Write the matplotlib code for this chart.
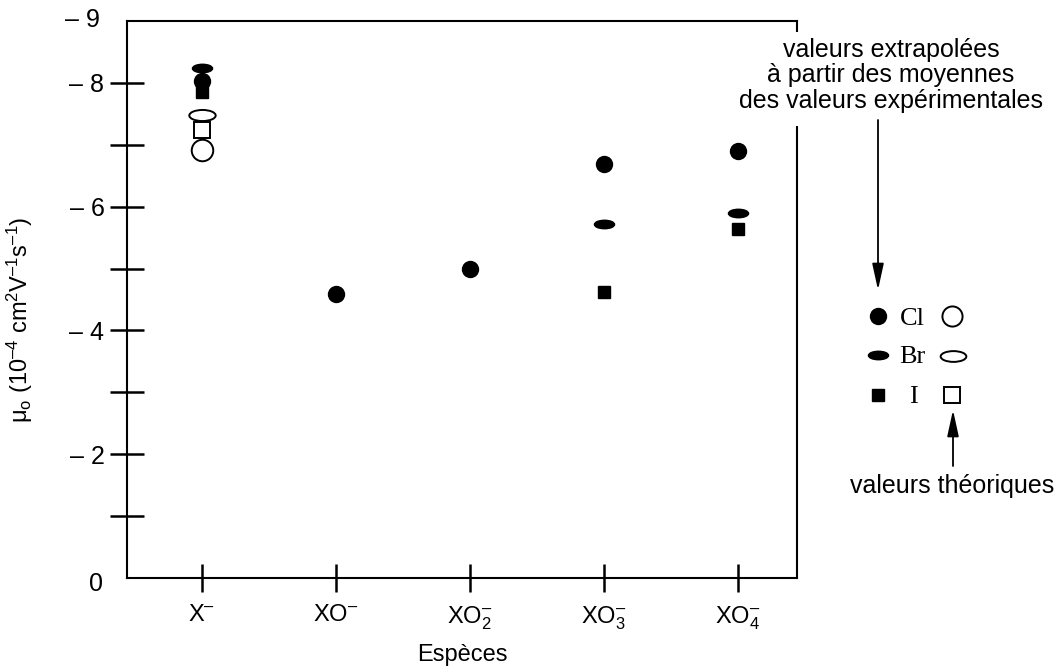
# mobilites ioniques des halogenures et oxoanions

import matplotlib
matplotlib.use("Agg")
import matplotlib.pyplot as plt
from matplotlib.path import Path
from matplotlib.patches import Rectangle
from matplotlib.transforms import Affine2D
from matplotlib.markers import MarkerStyle

plt.rcParams['font.family'] = ['Liberation Sans', 'DejaVu Sans']
plt.rcParams['mathtext.fontset'] = 'custom'
plt.rcParams['mathtext.rm'] = 'Liberation Sans'
plt.rcParams['mathtext.it'] = 'Liberation Sans'

species = ["X$^{\u2013}$", "XO$^{\u2013}$", "XO$_2^{\u2013}$", "XO$_3^{\u2013}$", "XO$_4^{\u2013}$"]

# valeurs extrapolées (symboles pleins)
cl_exp = [-8.03, -4.59, -4.99, -6.69, -6.90]
br_exp = [-8.24, None, None, -5.72, -5.90]
i_exp = [-7.85, None, None, -4.62, -5.64]

# valeurs théoriques (symboles vides), seulement pour X-
cl_th = [-6.91]
br_th = [-7.48]
i_th = [-7.24]

y_major = [-8, -6, -4, -2]
y_minor = [-7, -5, -3, -1]

ellipse = Path(Affine2D().scale(1.0, 0.42).transform(Path.unit_circle().vertices),
               Path.unit_circle().codes)
ellipse_m = MarkerStyle(ellipse)

fig = plt.figure(figsize=(10.6, 6.69), dpi=100)
ax = fig.add_axes([0.1198, 0.136, 0.632, 0.8326])

xs = list(range(len(species)))


def pts(vals):
    xx = [x for x, v in zip(xs, vals) if v is not None]
    yy = [v for v in vals if v is not None]
    return xx, yy


ax.plot(*pts(cl_exp), 'o', color='black', ms=11.5, ls='none', clip_on=False)
ax.plot(*pts(br_exp), marker=ellipse_m, color='black', ms=14.5, ls='none', clip_on=False)
ax.plot(*pts(i_exp), 's', color='black', ms=8.6, ls='none', clip_on=False)

ax.plot([0], cl_th, 'o', mfc='white', mec='black', mew=1.4, ms=15.5, ls='none')
ax.plot([0], br_th, marker=ellipse_m, mfc='white', mec='black', mew=1.4, ms=19, ls='none')
ax.plot([0], i_th, 's', mfc='white', mec='black', mew=1.4, ms=12, ls='none')

ax.set_xlim(-0.56, 4.44)
ax.set_ylim(0, -9)

for s in ax.spines.values():
    s.set_linewidth(1.5)

ax.set_xticks(xs)
ax.set_xticklabels(species, fontsize=17)
ax.tick_params(axis='x', direction='inout', length=20, width=1.8, pad=9)

ax.set_yticks(y_major)
ax.set_yticklabels(["\u2013 %d" % abs(v) for v in y_major], fontsize=18)
ax.set_yticks(y_minor, minor=True)
ax.tick_params(axis='y', which='both', direction='inout', length=24.5, width=1.8, pad=4)

# labels -9 et 0 sans trait
ax.text(-0.76, -9.02, "\u2013 9", fontsize=18, ha='right', va='center')
ax.text(-0.74, 0.1, "0", fontsize=18, ha='right', va='center')

ax.set_xlabel("Esp\u00e8ces", fontsize=17)
ax.xaxis.set_label_coords(0.5, -0.118)
ax.set_ylabel("\u03bc$_{\\rm o}$ (10$^{\u20134}$ cm$^2$V$^{\u20131}$s$^{\u20131}$)", fontsize=17)
ax.yaxis.set_label_coords(-0.137, 0.463)

# légende à droite
def fx(px):
    return px / 1060


def fy(py):
    return 1 - py / 669


tf = fig.transFigure
ax.plot([fx(878)], [fy(316)], 'o', color='black', ms=11.5, transform=tf, clip_on=False)
ax.plot([fx(878)], [fy(355)], marker=ellipse_m, color='black', ms=14.5, transform=tf, clip_on=False)
ax.plot([fx(878)], [fy(395)], 's', color='black', ms=8.6, transform=tf, clip_on=False)
ax.plot([fx(952)], [fy(316)], 'o', mfc='white', mec='black', mew=1.4, ms=14.5, transform=tf, clip_on=False)
ax.plot([fx(953)], [fy(356)], marker=ellipse_m, mfc='white', mec='black', mew=1.4, ms=18.5, transform=tf, clip_on=False)
ax.plot([fx(952)], [fy(395)], 's', mfc='white', mec='black', mew=1.4, ms=11, transform=tf, clip_on=False)

serif = ['Liberation Serif', 'DejaVu Serif']
fig.text(fx(912), fy(325), "Cl", family=serif, fontsize=19, ha='center', va='baseline')
fig.text(fx(912), fy(363), "Br", family=serif, fontsize=19, ha='center', va='baseline')
fig.text(fx(913), fy(403), "I", family=serif, fontsize=19, ha='center', va='baseline')

# le texte du haut masque le bord droit du cadre
fig.add_artist(Rectangle((fx(788), fy(126)), fx(20), 94 / 669, transform=tf,
                         fc='white', ec='none', zorder=4))
top_lines = ["valeurs extrapol\u00e9es", "\u00e0 partir des moyennes", "des valeurs exp\u00e9rimentales"]
for line, base in zip(top_lines, [57, 82, 108]):
    fig.text(fx(891), fy(base), line, fontsize=18, ha='center', va='baseline', zorder=5)
fig.text(fx(952), fy(493), "valeurs th\u00e9oriques", fontsize=18, ha='center', va='baseline')

arrow = dict(arrowstyle='-|>,head_length=1.6,head_width=0.35', color='black', lw=1.3, shrinkA=0, shrinkB=0)
ax.annotate("", xy=(fx(878), fy(290)), xytext=(fx(878), fy(120)),
            xycoords='figure fraction', textcoords='figure fraction', arrowprops=arrow)
ax.annotate("", xy=(fx(953), fy(410)), xytext=(fx(953), fy(466)),
            xycoords='figure fraction', textcoords='figure fraction', arrowprops=arrow)

fig.savefig("out.png", dpi=100)
